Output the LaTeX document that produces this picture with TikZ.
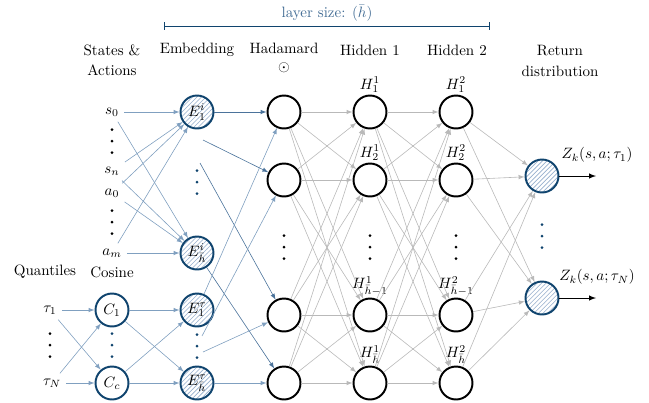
\documentclass[tikz,border=0pt]{standalone}
\usetikzlibrary{patterns}
\definecolor{netblue}{RGB}{16,68,110}
\definecolor{linkblue}{RGB}{128,160,192}
\definecolor{embblue}{RGB}{75,115,155}
\definecolor{hatchblue}{RGB}{150,175,205}
\definecolor{linkgray}{RGB}{185,185,185}
\begin{document}
\begin{tikzpicture}[x=.667pt,y=-.667pt,>=latex,
  unit/.style={circle,draw,line width=1.3pt,minimum size=22pt,inner sep=0pt},
  hunit/.style={unit,draw=netblue,pattern=north east lines,pattern color=hatchblue},
  cunit/.style={unit,draw=netblue},
  blink/.style={->,linkblue},
  elink/.style={->,embblue},
  glink/.style={->,linkgray},
  vdts/.pic={\foreach \k in {-1,0,1} \fill (0,\k*11.5) circle (1pt);}]
\useasboundingbox (0,0) rectangle (649,402);
% titles
\path (112,60) node[align=center] (ttl0) {States \&\\[1pt]Actions} (197,50) node (ttl1) {Embedding}
 (284,58) node[align=center] (ttl2) {Hadamard\\$\odot$} (370,50) node (ttl3) {Hidden 1} (457,50) node (ttl4) {Hidden 2}
 (560,61) node[align=center] (ttl5) {Return\\[2pt]distribution} (45,272) node (ttl6) {Quantiles} (112,272) node (ttl7) {Cosine};
\draw[|-|,netblue] (164,26) coordinate (bl) -- (490,26) coordinate (br);
\node[text=embblue!85!netblue] (bar) at (327,13) {layer size: $(\bar{h})$};
% inputs
\path (112,112) node (s0) {$s_0$} (112,171) node (sn) {$s_n$} (112,193) node (a0) {$a_0$} (112,253) node (am) {$a_m$}
 (50,310) node (q1) {$\tau_1$} (52,383) node (qN) {$\tau_N$};
\path (112,141) pic{vdts} (112,222) pic{vdts} (50,345) pic{vdts};
% cosine + embedding
\node[cunit] (c1) at (112,310) {$C_1$};
\node[cunit] (cc) at (112,383) {$C_c$};
\node[hunit] (ei1) at (197,112) {$E_1^i$};
\node[hunit] (eih) at (197,253) {$E_{\bar h}^i$};
\node[hunit] (et1) at (197,310) {$E_1^\tau$};
\node[hunit] (eth) at (197,383) {$E_{\bar h}^\tau$};
\path[netblue] (112,345) pic{vdts} (197,182) pic{vdts} (197,346) pic{vdts} (542,236) pic{vdts};
\coordinate (ei2) at (203,140); \coordinate (ei3) at (200,163);
\coordinate (et2) at (202,336); \coordinate (et3) at (203,352);
% hadamard, hidden layers
\foreach \i/\y in {1/112,2/180,3/315,4/383} {
  \node[unit] (had\i) at (284,\y) {};
  \node[unit] (hia\i) at (370,\y) {};
  \node[unit] (hib\i) at (456,\y) {};
}
\path (284,247) pic{vdts} (370,247) pic{vdts} (456,247) pic{vdts};
\foreach \i/\t in {1/1,2/2,3/{\bar h-1},4/{\bar h}} {
  \node[inner sep=1pt,above] (lha\i) at (hia\i.north) {$H^1_{\t}$};
  \node[inner sep=1pt,above] (lhb\i) at (hib\i.north) {$H^2_{\t}$};
}
% return distribution
\node[hunit] (out1) at (542,176) {};
\node[hunit] (out2) at (542,298) {};
\coordinate (zr1) at (596,176); \coordinate (zr2) at (596,298);
\node (z1) at (597,155) {$Z_k(s,a;\tau_1)$};
\node (z2) at (597,277) {$Z_k(s,a;\tau_N)$};
\draw[->,semithick] (out1) -- (zr1);
\draw[->,semithick] (out2) -- (zr2);
% links
\foreach \s in {s0,sn,a0,am} \foreach \e in {ei1,eih} \draw[blink] (\s) -- (\e);
\foreach \s in {q1,qN} \foreach \e in {c1,cc} \draw[blink] (\s) -- (\e);
\foreach \s in {c1,cc} \foreach \e in {et1,eth} \draw[blink] (\s) -- (\e);
\foreach \s/\d in {ei1/had1,ei2/had2,ei3/had3,eih/had4} \draw[elink] (\s) -- (\d);
\foreach \s/\d in {et1/had1,et2/had2,et3/had3,eth/had4} \draw[blink] (\s) -- (\d);
\foreach \a in {1,...,4} \foreach \b in {1,...,4} {
  \draw[glink] (had\a) -- (hia\b);
  \draw[glink] (hia\a) -- (hib\b);
}
\foreach \a in {1,...,4} \foreach \b in {1,2} \draw[glink] (hib\a) -- (out\b);
\end{tikzpicture}
\end{document}
